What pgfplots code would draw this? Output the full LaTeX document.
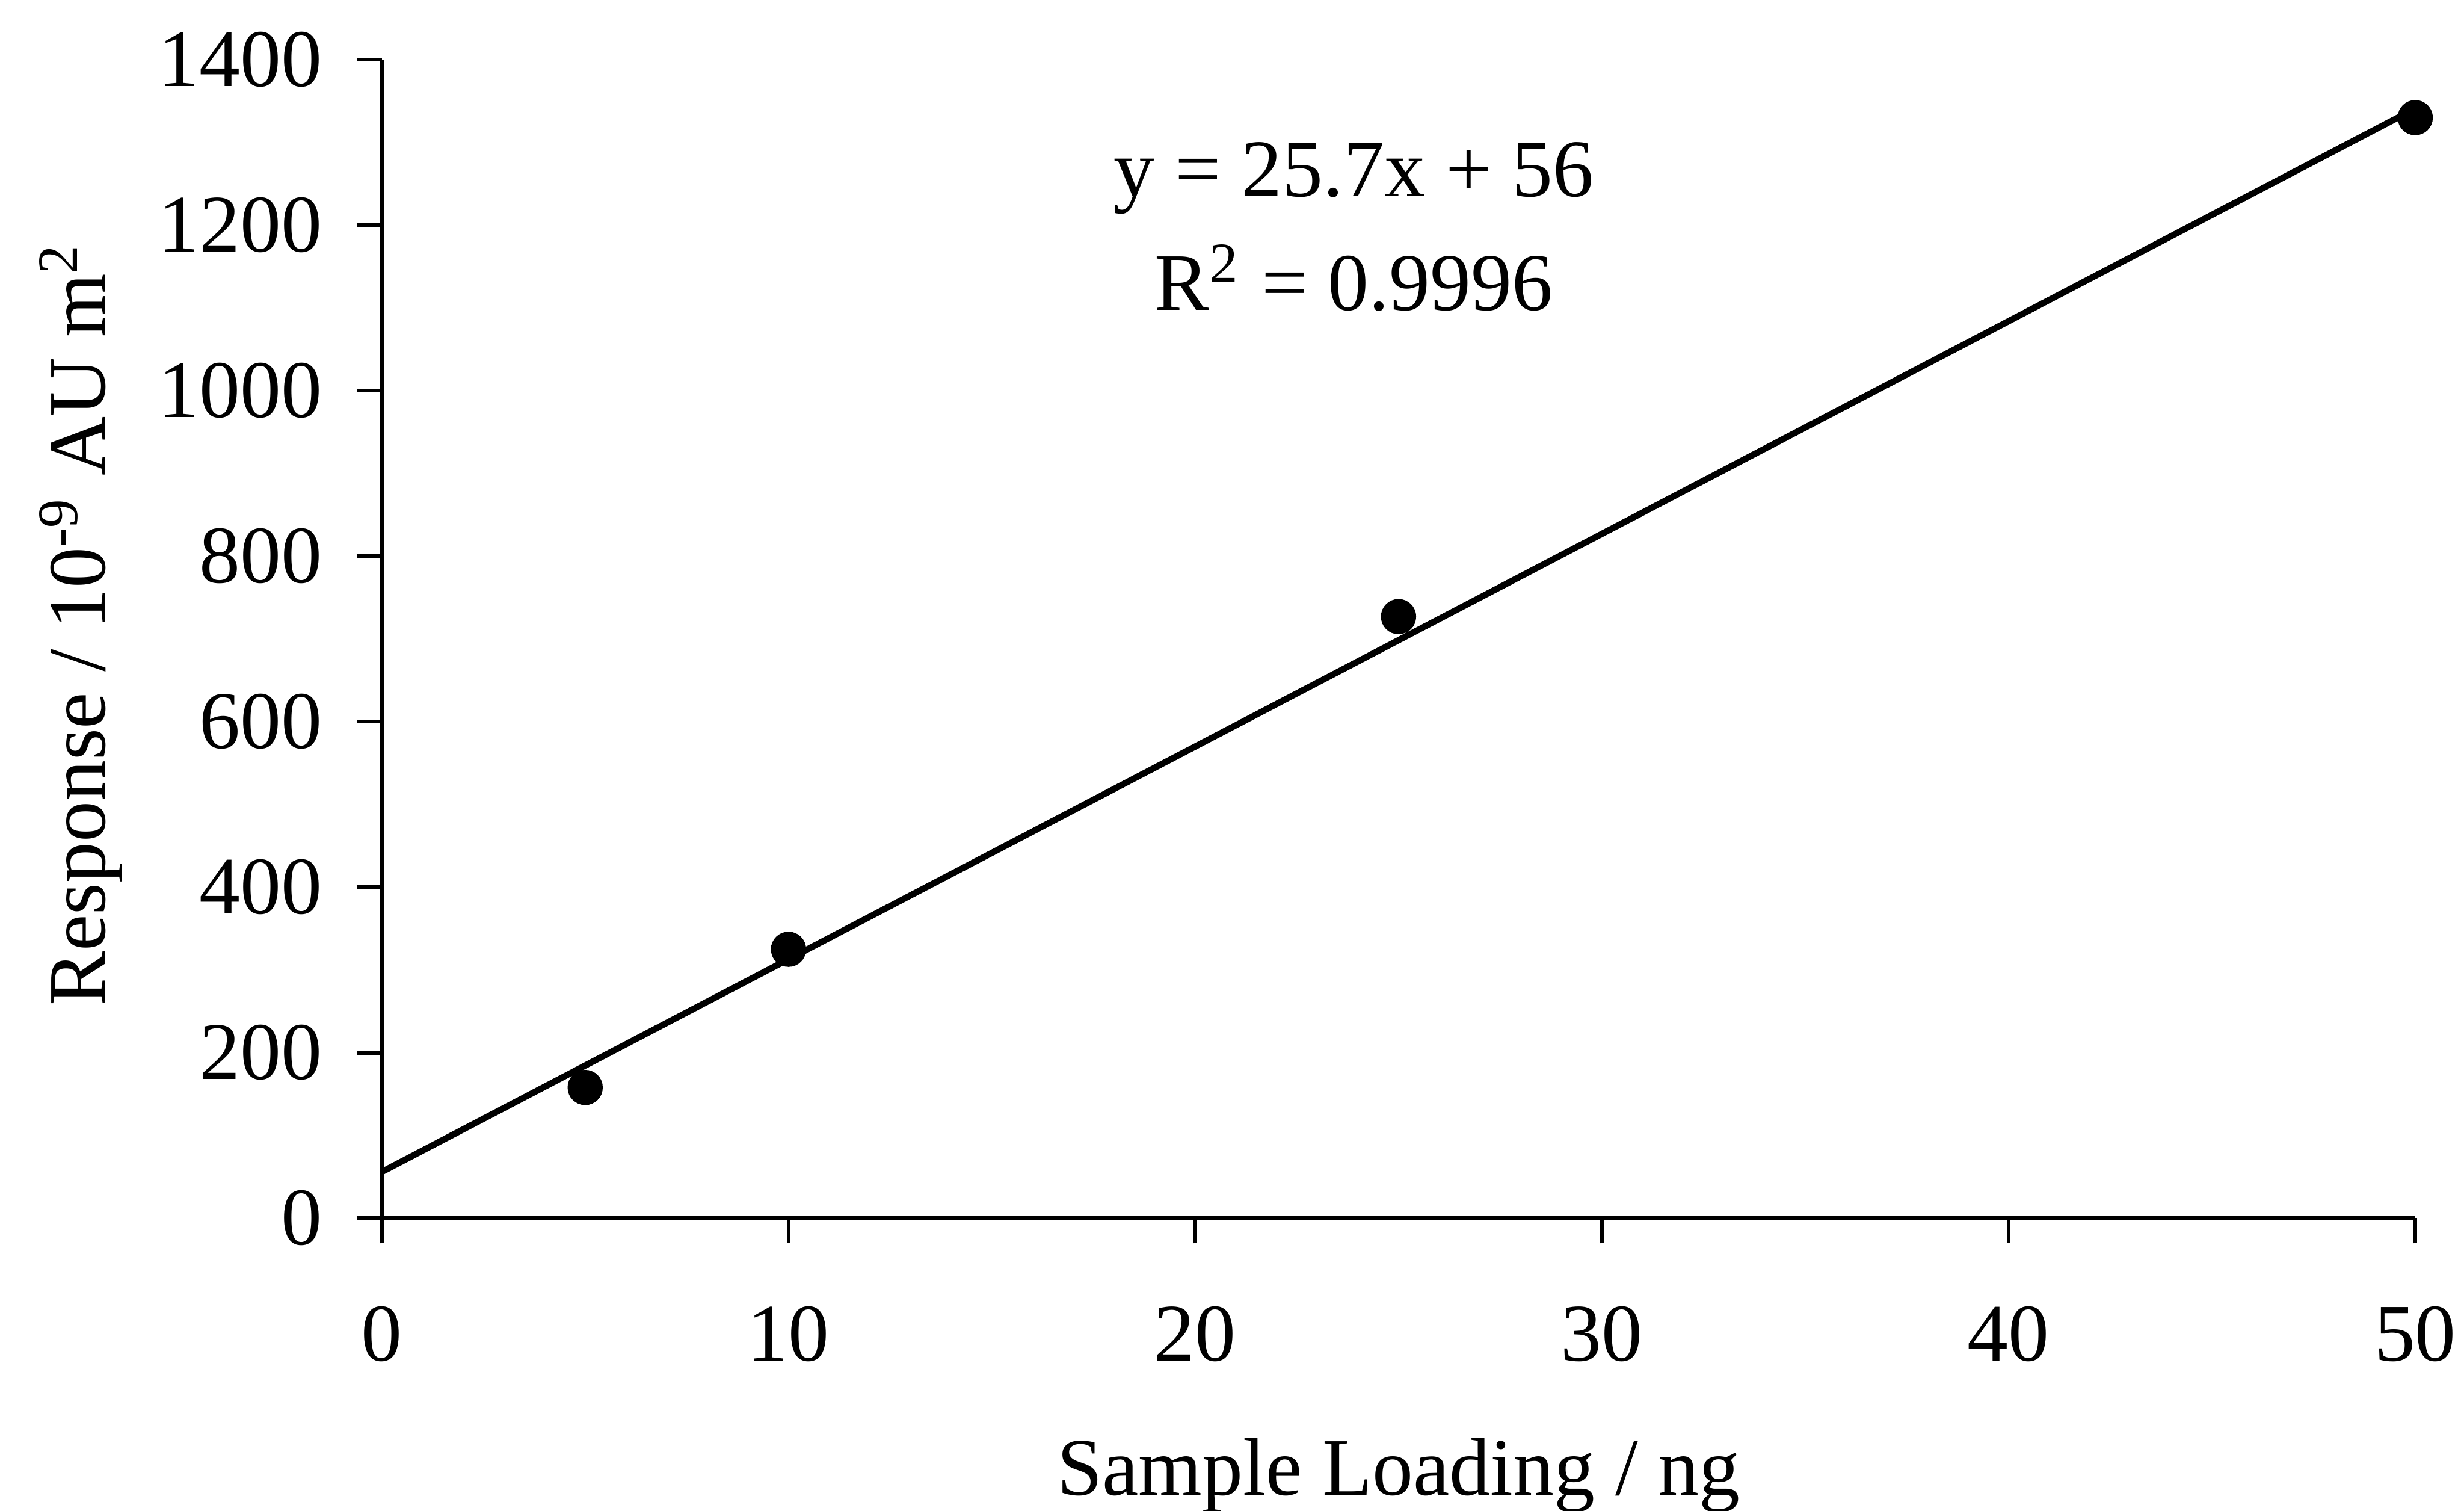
\documentclass[border=0pt]{standalone}
\usepackage{pgfplots}
\pgfplotsset{compat=1.18}
\usepackage{fontspec}
\setmainfont{Liberation Serif}
\begin{document}
\begin{tikzpicture}
\begin{axis}[
  scale only axis,
  width=323.5pt, height=184.25pt,
  xmin=0, xmax=50, ymin=0, ymax=1400,
  axis lines=left,
  axis line style={line width=0.6pt, -},
  xtick={0,10,20,30,40,50},
  ytick={0,200,400,600,800,1000,1200,1400},
  tick align=outside,
  major tick length=4pt,
  tick style={line width=0.6pt, black},
  every tick label/.append style={font=\fontsize{13}{15}\selectfont},
  /pgf/number format/assume math mode=true,
  /pgf/number format/1000 sep={},
  xticklabel style={yshift=-6.5pt},
  yticklabel style={xshift=-2pt},
  xlabel={Sample Loading / ng},
  ylabel={Response / 10\textsuperscript{-9} AU m\textsuperscript{2}},
  label style={font=\fontsize{13}{15}\selectfont},
  x label style={at={(axis description cs:0.5,-0.222)}, anchor=center},
  y label style={at={(axis description cs:-0.148,0.513)}, anchor=center, rotate=0},
  clip=false,
]
\addplot[black, line width=1pt, no marks] coordinates {(0,56) (50,1341)};
\addplot[only marks, mark=*, mark size=2.6pt, black] coordinates {
  (5,158) (10,325) (25,727) (50,1330)
};
\node[align=center, font=\fontsize{13}{18}\selectfont] at (axis cs:23.9,1198) {y = 25.7x + 56\\R\textsuperscript{2} = 0.9996};
\end{axis}
\pgfresetboundingbox
\path[use as bounding box] (-60.75pt,-46.5pt) rectangle (331.25pt,193.75pt);
\end{tikzpicture}
\end{document}
